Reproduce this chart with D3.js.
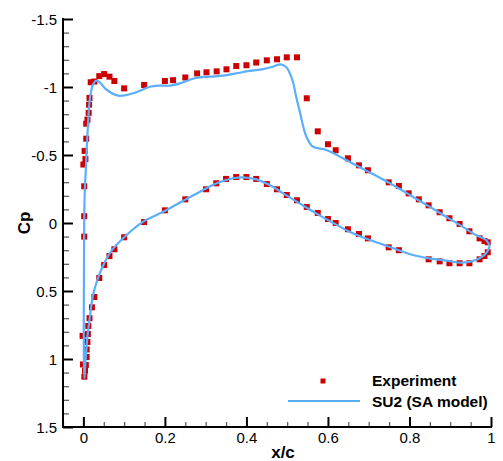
<!DOCTYPE html>
<html>
<head>
<meta charset="utf-8">
<script src="https://cdn.jsdelivr.net/npm/d3@7"></script>
<style>
html,body{margin:0;padding:0;background:#fff;}
svg{display:block;font-family:"Liberation Sans",Arial,Helvetica,sans-serif;}
</style>
</head>
<body>
<svg id="chart" width="503" height="461"></svg>
<script>
// ---- Data ----
const expUpperX = [-0.001,-0.002,0.002,0.002,0.002,0.0,0.005,0.003,0.007,0.007,0.01,0.013,0.014,0.015,0.018,0.027,0.039,0.051,0.064,0.076,0.10,0.149,0.2,0.22,0.25,0.279,0.302,0.327,0.351,0.375,0.40,0.424,0.45,0.475,0.499,0.524,0.548,0.575,0.60,0.619,0.649,0.676,0.698,0.749,0.774,0.798,0.823,0.847,0.874,0.898,0.923,0.947,0.972,0.984,0.992];
const expUpperCp = [1.04,0.83,0.10,-0.05,-0.27,-0.43,-0.47,-0.53,-0.62,-0.73,-0.76,-0.81,-0.87,-0.92,-1.035,-1.04,-1.08,-1.095,-1.076,-1.044,-0.99,-1.015,-1.044,-1.05,-1.07,-1.10,-1.108,-1.115,-1.13,-1.154,-1.16,-1.18,-1.196,-1.204,-1.218,-1.218,-0.917,-0.674,-0.579,-0.535,-0.476,-0.424,-0.388,-0.299,-0.272,-0.218,-0.174,-0.13,-0.079,-0.035,0.007,0.061,0.113,0.132,0.142];
const expLowerX = [0.0025,0.004,0.006,0.008,0.008,0.01,0.011,0.012,0.015,0.021,0.027,0.039,0.051,0.064,0.076,0.10,0.149,0.2,0.25,0.301,0.326,0.35,0.375,0.40,0.424,0.45,0.475,0.499,0.524,0.548,0.575,0.60,0.619,0.649,0.676,0.698,0.749,0.774,0.847,0.874,0.898,0.923,0.947,0.972,0.984,0.992];
const expLowerCp = [1.13,1.086,1.044,0.985,0.93,0.875,0.816,0.757,0.70,0.62,0.544,0.404,0.309,0.243,0.193,0.105,-0.007,-0.093,-0.174,-0.248,-0.292,-0.324,-0.338,-0.338,-0.324,-0.287,-0.248,-0.206,-0.167,-0.118,-0.074,-0.029,0.0,0.046,0.081,0.113,0.179,0.20,0.267,0.282,0.296,0.296,0.296,0.267,0.243,0.215];

// SU2 curve: trailing edge -> upper surface -> leading edge -> lower surface -> trailing edge
const su2X = [0.997,0.988,0.963,0.93,0.89,0.849,0.808,0.767,0.726,0.694,0.645,0.596,0.563,0.547,0.53,0.522,0.514,0.505,0.498,0.484,0.465,0.441,0.408,0.375,0.343,0.31,0.273,0.237,0.212,0.188,0.163,0.143,0.122,0.102,0.086,0.07,0.053,0.041,0.031,0.023,0.018,0.014,0.011,0.008,0.006,0.0035,0.002,0.0015,0.001,0.001,0.0015,0.0025,0.003,0.006,0.01,0.016,0.023,0.033,0.049,0.07,0.106,0.147,0.163,0.204,0.245,0.286,0.327,0.367,0.392,0.424,0.457,0.49,0.53,0.571,0.612,0.653,0.685,0.726,0.767,0.808,0.849,0.89,0.93,0.963,0.988,0.997];
const su2Cp = [0.17,0.125,0.088,0.027,-0.046,-0.12,-0.193,-0.267,-0.335,-0.385,-0.463,-0.537,-0.561,-0.635,-0.83,-0.929,-1.039,-1.11,-1.145,-1.167,-1.149,-1.132,-1.118,-1.10,-1.083,-1.076,-1.064,-1.027,-1.01,-1.01,-1.002,-0.978,-0.954,-0.939,-0.936,-0.954,-0.99,-1.032,-1.046,-1.015,-0.954,-0.855,-0.708,-0.537,-0.39,-0.243,0.0,0.3,0.64,0.9,1.05,1.14,1.12,0.983,0.836,0.69,0.54,0.43,0.309,0.2,0.088,-0.01,-0.035,-0.096,-0.164,-0.23,-0.292,-0.329,-0.336,-0.321,-0.279,-0.218,-0.145,-0.071,-0.002,0.064,0.105,0.149,0.193,0.235,0.26,0.277,0.292,0.272,0.223,0.17];

const xTickValues = [0, 0.2, 0.4, 0.6, 0.8, 1];
const xTickLabels = ["0", "0.2", "0.4", "0.6", "0.8", "1"];
const yTickValues = [-1.5, -1, -0.5, 0, 0.5, 1, 1.5];
const yTickLabels = ["-1.5", "-1", "-0.5", "0", "0.5", "1", "1.5"];
const legendLabels = ["Experiment", "SU2 (SA model)"];

// ---- Layout ----
const svg = d3.select("#chart");
const mLeft = 63, mRight = 491, mTop = 19, mBottom = 427;
const x = d3.scaleLinear().domain([-0.05, 1]).range([mLeft, mRight]);
const y = d3.scaleLinear().domain([-1.5, 1.5]).range([mTop, mBottom]);

const red = "#cc0000", blue = "#5aaefc";

// minor ticks
const xMinor = d3.range(-0.05, 1.0001, 0.05).filter(v => Math.abs(Math.round(v*5) - v*5) > 1e-6);
const yMinor = d3.range(-1.5, 1.5001, 0.1).filter(v => Math.abs(Math.round(v*2) - v*2) > 1e-6);

const gx = svg.append("g").attr("transform", `translate(0,${mBottom})`);
gx.call(d3.axisBottom(x).tickValues(xMinor).tickSize(-5).tickFormat(""))
  .call(g => g.selectAll(".tick line").attr("stroke", "#555").attr("stroke-width", 1.2))
  .call(g => g.select(".domain").remove());
const gx2 = svg.append("g").attr("transform", `translate(0,${mBottom})`);
gx2.call(d3.axisBottom(x).tickValues(xTickValues).tickSizeInner(-10).tickSizeOuter(0)
    .tickFormat((d,i) => xTickLabels[i]))
  .call(g => g.selectAll(".tick line").attr("stroke", "#000").attr("stroke-width", 2))
  .call(g => g.selectAll(".tick text").attr("y", 16).attr("font-size", 15).attr("fill", "#000").attr("dy", 0))
  .call(g => g.select(".domain").remove());

const gy = svg.append("g").attr("transform", `translate(${mLeft},0)`);
gy.call(d3.axisLeft(y).tickValues(yMinor).tickSize(-6).tickFormat(""))
  .call(g => g.selectAll(".tick line").attr("stroke", "#555").attr("stroke-width", 1.2))
  .call(g => g.select(".domain").remove());
const gy2 = svg.append("g").attr("transform", `translate(${mLeft},0)`);
gy2.call(d3.axisLeft(y).tickValues(yTickValues).tickSizeInner(-10).tickSizeOuter(0)
    .tickFormat((d,i) => yTickLabels[i]))
  .call(g => g.selectAll(".tick line").attr("stroke", "#000").attr("stroke-width", 2))
  .call(g => g.selectAll(".tick text").attr("x", -6).attr("font-size", 15).attr("fill", "#000").attr("dy", "0.36em"))
  .call(g => g.select(".domain").remove());

// axis lines
svg.append("line").attr("x1", mLeft).attr("x2", mLeft).attr("y1", mTop - 1).attr("y2", mBottom + 1)
  .attr("stroke", "#000").attr("stroke-width", 2);
svg.append("line").attr("x1", mLeft - 1).attr("x2", mRight + 1).attr("y1", mBottom).attr("y2", mBottom)
  .attr("stroke", "#000").attr("stroke-width", 2);

// axis titles
svg.append("text").attr("x", 283).attr("y", 458).attr("text-anchor", "middle")
  .attr("font-size", 17).attr("font-weight", "bold").text("x/c");
svg.append("text").attr("transform", "translate(30,223) rotate(-90)").attr("text-anchor", "middle")
  .attr("font-size", 17).attr("font-weight", "bold").text("Cp");

// experiment markers
const sq = 6;
const expPts = expUpperX.map((v,i) => [v, expUpperCp[i]]).concat(expLowerX.map((v,i) => [v, expLowerCp[i]]));
svg.append("g").selectAll("rect").data(expPts).join("rect")
  .attr("x", d => x(d[0]) - sq/2).attr("y", d => y(d[1]) - sq/2)
  .attr("width", sq).attr("height", sq).attr("fill", red);

// SU2 line
const su2Pts = su2X.map((v,i) => [v, su2Cp[i]]);
svg.append("path").datum(su2Pts)
  .attr("d", d3.line().x(d => x(d[0])).y(d => y(d[1])).curve(d3.curveCatmullRom.alpha(0.5)))
  .attr("fill", "none").attr("stroke", blue).attr("stroke-width", 2.2).attr("stroke-linejoin", "round");

// legend
const lg = svg.append("g");
lg.append("rect").attr("x", 323 - 2.5).attr("y", 381 - 2.5).attr("width", 5).attr("height", 5).attr("fill", red);
lg.append("line").attr("x1", 288).attr("x2", 360).attr("y1", 401).attr("y2", 401)
  .attr("stroke", blue).attr("stroke-width", 2.2);
lg.append("text").attr("x", 372).attr("y", 385.5).attr("font-size", 15.5).attr("font-weight", "bold").text(legendLabels[0]);
lg.append("text").attr("x", 372).attr("y", 407).attr("font-size", 15.5).attr("font-weight", "bold").text(legendLabels[1]);
</script>
</body>
</html>
